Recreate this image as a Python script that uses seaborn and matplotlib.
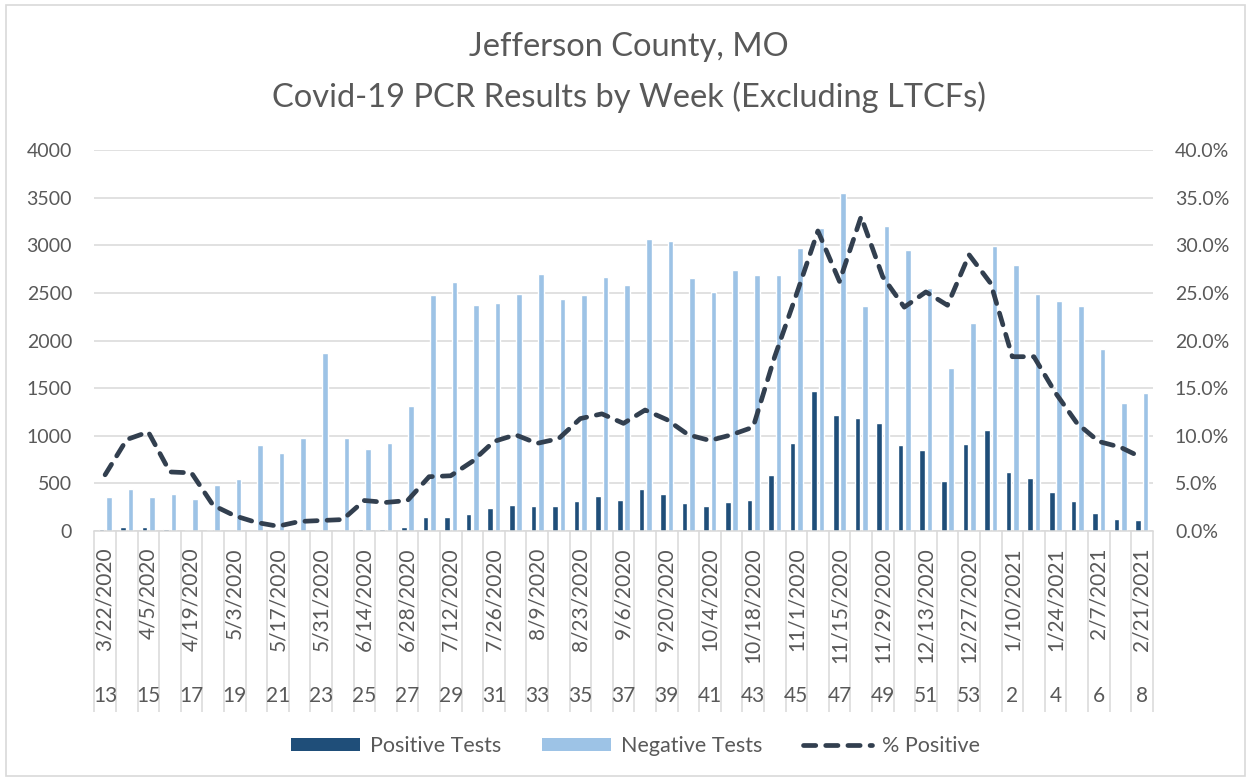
import numpy as np
import pandas as pd
import matplotlib
matplotlib.use("Agg")
import matplotlib.pyplot as plt
import seaborn as sns
from matplotlib.patches import Patch, Rectangle
from matplotlib.lines import Line2D
from matplotlib.ticker import FuncFormatter
from matplotlib.transforms import blended_transform_factory

# ---------------- data ----------------
weeks = [13, 14, 15, 16, 17, 18, 19, 20, 21, 22, 23, 24, 25, 26, 27, 28, 29, 30,
         31, 32, 33, 34, 35, 36, 37, 38, 39, 40, 41, 42, 43, 44, 45, 46, 47, 48,
         49, 50, 51, 52, 53, 1, 2, 3, 4, 5, 6, 7, 8]

date_labels = ["3/22/2020", "4/5/2020", "4/19/2020", "5/3/2020", "5/17/2020",
               "5/31/2020", "6/14/2020", "6/28/2020", "7/12/2020", "7/26/2020",
               "8/9/2020", "8/23/2020", "9/6/2020", "9/20/2020", "10/4/2020",
               "10/18/2020", "11/1/2020", "11/15/2020", "11/29/2020", "12/13/2020",
               "12/27/2020", "1/10/2021", "1/24/2021", "2/7/2021", "2/21/2021"]

positive = [18, 39, 38, 25, 15, 10, 5, 3, 2, 2, 10, 5, 20, 20, 38, 150, 150,
            178, 238, 273, 262, 259, 318, 367, 322, 441, 388, 290, 259, 301, 322,
            584, 924, 1470, 1218, 1186, 1134, 903, 850, 525, 910, 1064, 619, 553,
            413, 318, 192, 126, 112]

negative = [354, 441, 360, 390, 333, 483, 543, 900, 815, 973, 1865, 973, 857,
            920, 1312, 2478, 2617, 2373, 2390, 2488, 2702, 2432, 2478, 2667, 2580,
            3062, 3045, 2660, 2513, 2740, 2685, 2688, 2975, 3178, 3552, 2362, 3202,
            2950, 2551, 1711, 2187, 2989, 2793, 2488, 2415, 2362, 1911, 1344, 1452]

pct_positive = [5.9, 9.6, 10.4, 6.2, 6.1, 2.7, 1.6, 0.9, 0.5, 1.0, 1.1, 1.2, 3.2,
                3.0, 3.2, 5.7, 5.8, 7.3, 9.4, 10.1, 9.2, 9.7, 11.8, 12.3, 11.3,
                12.7, 11.7, 10.1, 9.5, 10.1, 10.9, 18.3, 24.8, 31.5, 26.2, 33.0,
                26.7, 23.5, 25.1, 23.7, 29.0, 26.0, 18.3, 18.3, 14.5, 11.3, 9.4,
                8.8, 7.7]

series_names = ["Positive Tests", "Negative Tests"]
title_lines = ["Jefferson County, MO", "Covid-19 PCR Results by Week (Excluding LTCFs)"]

# ---------------- style ----------------
sns.set_theme(style="white")
plt.rcParams["font.family"] = ["Lato", "DejaVu Sans"]
TXT = "#595959"
GRID = "#D9D9D9"
C_POS = "#1F4E79"
C_NEG = "#9DC3E6"
C_LINE = "#323F4F"
DASH = (0, (2.6, 2.1))

W, H = 1251, 780
fig = plt.figure(figsize=(W / 100, H / 100), dpi=100)
fig.patch.set_facecolor("white")

left, right, top, bottom = 94.3, 1152.7, 150, 531
ax = fig.add_axes([left / W, 1 - bottom / H, (right - left) / W, (bottom - top) / H])

week_keys = [str(w) for w in weeks]
df = pd.DataFrame({
    "week": week_keys * 2,
    "value": positive + negative,
    "series": [series_names[0]] * len(weeks) + [series_names[1]] * len(weeks),
})

sns.barplot(data=df, x="week", y="value", hue="series", order=week_keys,
            hue_order=series_names, palette=[C_POS, C_NEG], width=0.68, gap=0.24,
            saturation=1, errorbar=None, legend=False, ax=ax, zorder=2)

ax.set_xlim(-0.5, len(weeks) - 0.5)
ax.set_ylim(0, 4000)
ax.set_yticks(np.arange(0, 4001, 500))
ax.set_axisbelow(True)
ax.yaxis.grid(True, color=GRID, lw=1.1)
ax.xaxis.grid(False)
for s in ["top", "left", "right"]:
    ax.spines[s].set_visible(False)
ax.spines["bottom"].set_color(GRID)
ax.spines["bottom"].set_linewidth(1.1)
ax.set_xlabel("")
ax.set_ylabel("")
ax.tick_params(axis="y", length=0, pad=16, labelsize=14, labelcolor=TXT)

# x axis: dates (rotated) + week numbers, category separators
pos = np.arange(len(weeks))
ax.set_xticks(pos[::2])
ax.set_xticklabels(date_labels, rotation=90, fontsize=15, color=TXT)
ax.tick_params(axis="x", which="major", bottom=True, length=0, pad=12)
ax.set_xticks(np.arange(-0.5, len(weeks), 1), minor=True)
ax.tick_params(axis="x", which="minor", bottom=True, length=130, width=1.1,
               color=GRID, direction="out")

trans = blended_transform_factory(ax.transData, ax.transAxes)
for p, w in zip(pos[::2], weeks[::2]):
    ax.text(p, -(696 - bottom) / (bottom - top), str(w), transform=trans,
            ha="center", va="center", fontsize=15, color=TXT)

# secondary axis: % positive
ax2 = ax.twinx()
sns.lineplot(x=pos, y=np.array(pct_positive) / 100, ax=ax2, color=C_LINE, lw=3.4,
             linestyle=DASH, dash_capstyle="round", zorder=5)
ax2.set_ylim(0, 0.4)
ax2.set_yticks(np.arange(0, 0.401, 0.05))
ax2.yaxis.set_major_formatter(FuncFormatter(lambda v, _: f"{v * 100:.1f}%"))
ax2.tick_params(axis="y", length=0, pad=16, labelsize=14, labelcolor=TXT)
ax2.tick_params(axis="x", which="both", bottom=False, top=False)
ax2.grid(False)
for s in ax2.spines.values():
    s.set_visible(False)
ax2.set_ylabel("")
ax2.set_xlim(-0.5, len(weeks) - 0.5)

# titles
fig.text(0.503, 1 - 47 / H, title_lines[0], ha="center", va="center", fontsize=23.5, color=TXT)
fig.text(0.503, 1 - 97 / H, title_lines[1], ha="center", va="center", fontsize=23.5, color=TXT)

# legend
handles = [Patch(facecolor=C_POS, edgecolor="none"),
           Patch(facecolor=C_NEG, edgecolor="none"),
           Line2D([0], [0], color=C_LINE, lw=3.4, linestyle=DASH,
                  dash_capstyle="round")]
fig.legend(handles, series_names + ["% Positive"], loc="center",
           bbox_to_anchor=(0.508, 1 - 746 / H), ncol=3, frameon=False,
           fontsize=15.5, handlelength=3.2, handleheight=0.6, handletextpad=0.45,
           columnspacing=1.9, labelcolor=TXT)

# chart border
fig.add_artist(Rectangle((6 / W, 4 / H), (1245 - 6) / W, (775 - 4) / H,
                         transform=fig.transFigure, fill=False, edgecolor=GRID, lw=1.2))

fig.savefig("out.png", dpi=100)
